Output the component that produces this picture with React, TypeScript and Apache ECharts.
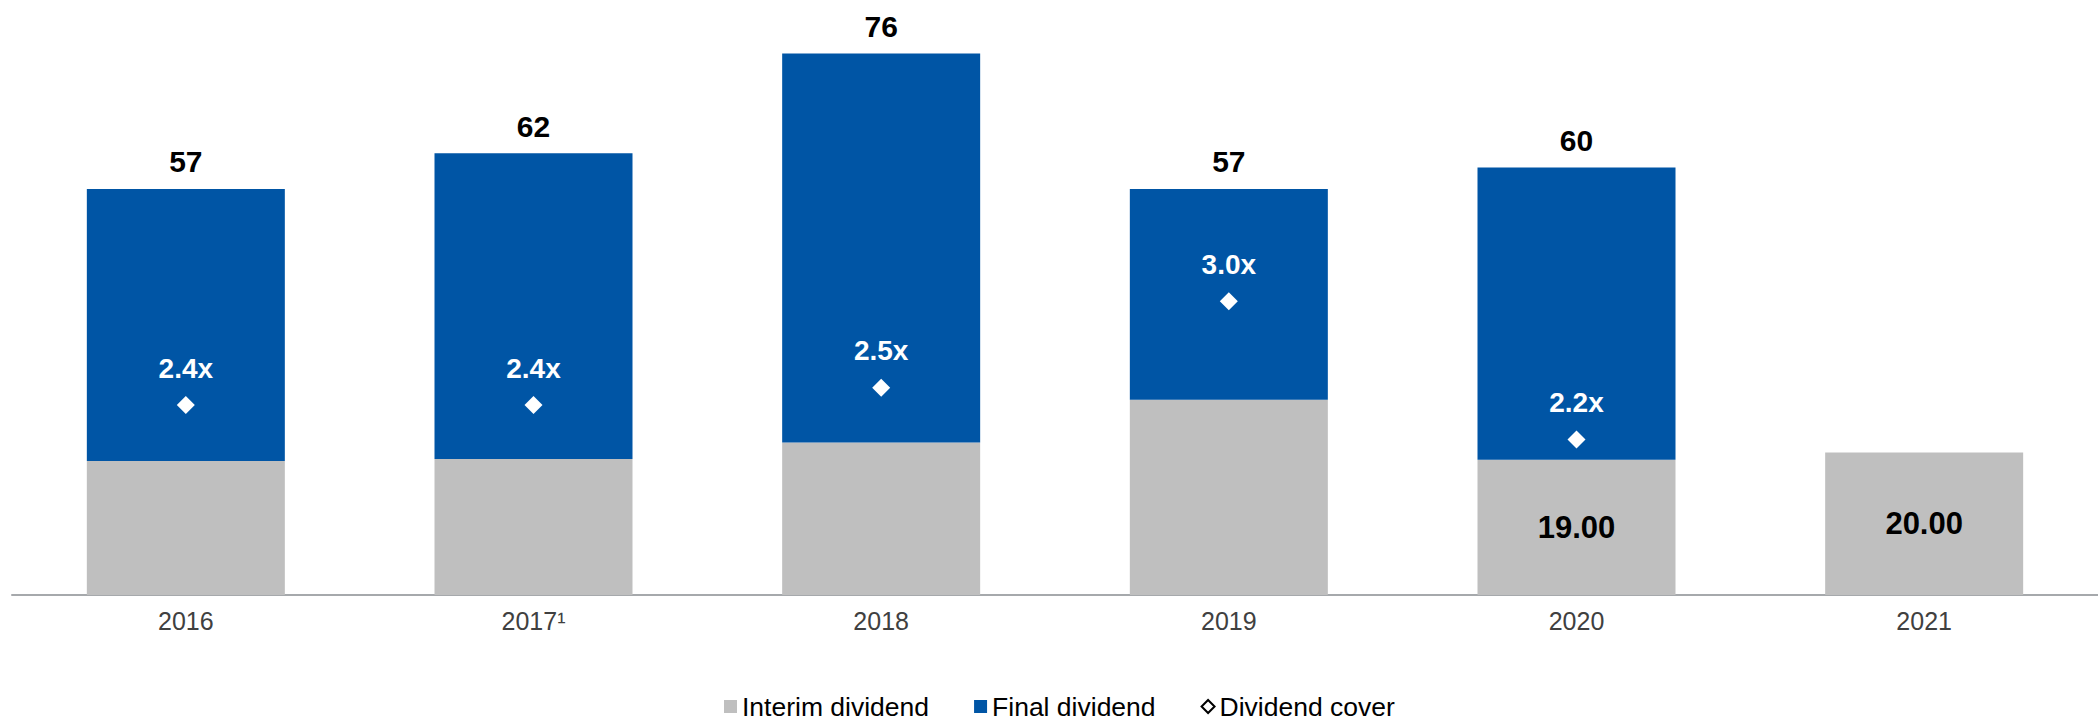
import React, { useEffect, useRef } from "react";
import * as echarts from "echarts";

const categories = ["2016", "2017¹", "2018", "2019", "2020", "2021"];
const interim = [18.8, 19.1, 21.4, 27.4, 19.0, 20.0];
const totals = [57, 62, 76, 57, 60, null];
const cover = [2.4, 2.4, 2.5, 3.0, 2.2, null];
const interimLabelShown = [false, false, false, false, true, true];

const FONT = "'Liberation Sans', Arial, Helvetica, sans-serif";
const BLUE = "#0055A5";
const GRAY = "#BFBFBF";

export default function App() {
  const ref = useRef<HTMLDivElement>(null);

  useEffect(() => {
    if (!ref.current) return;
    const chart = echarts.init(ref.current, undefined, { renderer: "svg" });

    const finalData = totals.map((t, i) => (t == null ? null : +(t - interim[i]).toFixed(2)));

    chart.setOption({
      animation: false,
      textStyle: { fontFamily: FONT },
      legend: {
        top: 693,
        left: 724,
        padding: 0,
        itemWidth: 13,
        itemHeight: 13,
        itemGap: 45,
        textStyle: { fontFamily: FONT, fontSize: 26.5, color: "#000", lineHeight: 26 },
        data: [
          { name: "Interim dividend", icon: "rect" },
          { name: "Final dividend", icon: "rect" },
          {
            name: "Dividend cover",
            icon: "diamond",
            itemStyle: { color: "#fff", borderColor: "#000", borderWidth: 2, opacity: 1 },
          },
        ],
      },
      grid: { left: 12, top: 25, width: 2089, height: 570 },
      xAxis: {
        type: "category",
        data: categories,
        axisLine: { show: true, lineStyle: { color: "#A6A9AC", width: 2 } },
        axisTick: { show: false },
        axisLabel: { fontFamily: FONT, fontSize: 25, color: "#404040", margin: 13 },
      },
      yAxis: [
        { type: "value", min: 0, max: 80, show: false },
        { type: "value", min: 1.3, max: 4.6, show: false },
      ],
      series: [
        {
          name: "Interim dividend",
          type: "bar",
          stack: "div",
          barWidth: 198,
          itemStyle: { color: GRAY },
          data: interim.map((v, i) => ({
            value: v,
            label: {
              show: interimLabelShown[i],
              position: "inside",
              formatter: () => v.toFixed(2),
              fontFamily: FONT,
              fontSize: 31,
              fontWeight: "bold",
              color: "#000",
            },
          })),
        },
        {
          name: "Final dividend",
          type: "bar",
          stack: "div",
          barWidth: 198,
          itemStyle: { color: BLUE },
          label: {
            show: true,
            position: "top",
            distance: 12,
            fontFamily: FONT,
            fontSize: 30,
            fontWeight: "bold",
            color: "#000",
            formatter: (p: any) => (totals[p.dataIndex] == null ? "" : String(totals[p.dataIndex])),
          },
          data: finalData,
        },
        {
          name: "Dividend cover",
          type: "scatter",
          yAxisIndex: 1,
          symbol: "diamond",
          symbolSize: 18,
          itemStyle: { color: "#fff", opacity: 1 },
          label: {
            show: true,
            position: "top",
            distance: 14,
            fontFamily: FONT,
            fontSize: 28,
            fontWeight: "bold",
            color: "#fff",
            opacity: 1,
            formatter: (p: any) => (p.value == null ? "" : `${Number(p.value).toFixed(1)}x`),
          },
          data: cover,
          z: 5,
        },
      ],
    });

    return () => chart.dispose();
  }, []);

  return (
    <div
      ref={ref}
      style={{ position: "absolute", left: 0, top: 0, width: 2098, height: 720 }}
    />
  );
}
